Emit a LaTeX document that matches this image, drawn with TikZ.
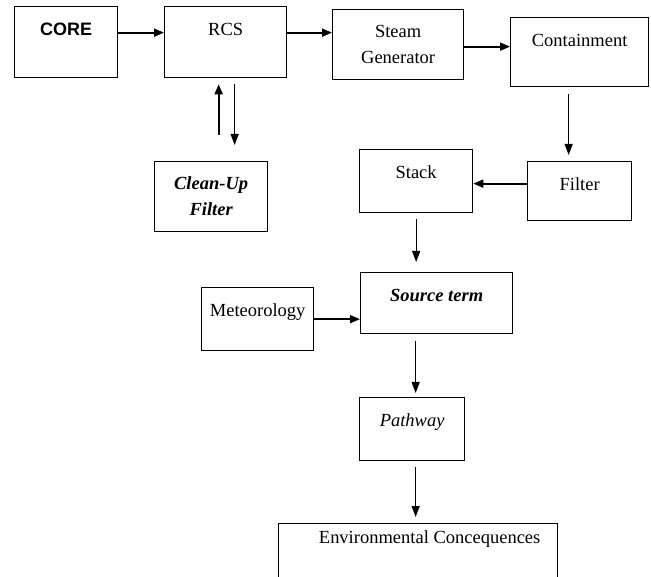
\documentclass[tikz,border=0pt]{standalone}
\usepackage{fontspec}
\setmainfont{Liberation Serif}
\newfontfamily\coresans{Liberation Sans}
\usetikzlibrary{arrows.meta}

\tikzset{
    box/.style={draw, line width=1.3pt, inner sep=0pt, anchor=north west,
        font=\fontsize{18.5}{26.5}\selectfont},
    topbox/.style={box, text height=29pt},
    twobox/.style={box, align=center, minimum height=70pt},
    flow/.style={line width=1.8pt, -{Triangle[length=10pt,width=8pt]}},
    drop/.style={line width=1.2pt, -{Triangle[length=11pt,width=8pt]}}
}

\begin{document}
\begin{tikzpicture}[x=1pt,y=-1pt]
            \clip (0,0) rectangle (651,577);
            \node[topbox, minimum width=103pt, text depth=42pt,
                font=\coresans\bfseries\fontsize{18}{22}\selectfont] (core) at (14,6) {CORE};
            \node[topbox, minimum width=122pt, text depth=42pt] (rcs) at (164,6) {RCS};
            \node[twobox, minimum width=131pt] (steam) at (332,9) {Steam\\Generator};
            \node[topbox, minimum width=138pt, text depth=40pt] (cont) at (510,17) {Containment};
            \node[twobox, minimum width=113pt, font=\fontsize{18.5}{26}\selectfont\bfseries\itshape]
                (clean) at (154,161) {Clean-Up\\Filter};
            \node[topbox, minimum width=104pt, text depth=30pt] (filter) at (527,161) {Filter};
            \node[topbox, minimum width=113pt, text depth=34pt] (stack) at (359,149) {Stack};
            \node[topbox, minimum width=152pt, text depth=32pt,
                font=\fontsize{18.5}{22}\selectfont\bfseries\itshape] (source) at (360,272) {Source term};
            \node[topbox, minimum width=112pt, text depth=34pt] (meteo) at (201,287) {Meteorology};
            \node[topbox, minimum width=105pt, text depth=34pt,
                font=\fontsize{18.5}{22}\selectfont\itshape] (path) at (359,397) {Pathway};
            \node[topbox, minimum width=279pt, text height=20pt, text depth=80pt]
                (env) at (278,523) {\hspace*{23pt}Environmental Concequences};
            % top row
            \draw[flow] ([yshift=9.5pt]core.east) -- ([yshift=9.5pt]core.east -| rcs.west);
            \draw[flow] ([yshift=9.5pt]rcs.east) -- ([yshift=9.5pt]rcs.east -| steam.west);
            \draw[flow] ([yshift=-2pt]steam.east) -- ([yshift=-2pt]steam.east -| cont.west);
            % clean-up loop
            \draw[flow, shorten <=26pt, shorten >=6pt] ([xshift=-7pt]rcs.south |- clean.north)
                -- ([xshift=-7pt]rcs.south);
            \draw[drop, shorten <=6pt, shorten >=16pt] ([xshift=9pt]rcs.south)
                -- ([xshift=9pt]rcs.south |- clean.north);
            % down the right side
            \draw[drop, shorten <=7pt, shorten >=6pt] ([xshift=-11pt]cont.south)
                -- ([xshift=-11pt]cont.south |- filter.north);
            \draw[flow] ([yshift=7.5pt]filter.west) -- ([yshift=7.5pt]filter.west -| stack.east);
            \draw[drop, shorten <=6pt, shorten >=10pt] (stack.south)
                -- (stack.south |- source.north);
            \draw[flow] (meteo.east) -- (meteo.east -| source.west);
            \draw[drop, shorten <=7pt, shorten >=4pt] ([xshift=-21pt]source.south)
                -- ([xshift=-21pt]source.south |- path.north);
            \draw[drop, shorten <=6pt, shorten >=6pt] ([xshift=3.5pt]path.south)
                -- ([xshift=3.5pt]path.south |- env.north);
        \end{tikzpicture}
\end{document}
